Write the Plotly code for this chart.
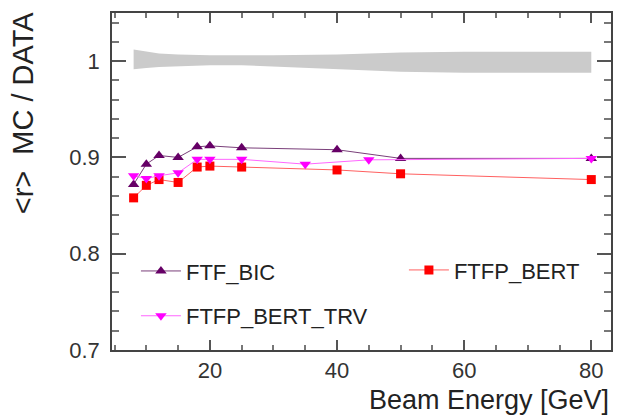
import plotly.graph_objects as go

# ---- data ----
band_x = [8, 10, 12, 15, 20, 25, 30, 40, 50, 60, 80]
band_hi = [1.012, 1.010, 1.008, 1.007, 1.006, 1.006, 1.006, 1.007, 1.009, 1.0097, 1.0097]
band_lo = [0.9915, 0.993, 0.994, 0.995, 0.9958, 0.9958, 0.995, 0.992, 0.989, 0.988, 0.988]

bic_x = [8, 10, 12, 15, 18, 20, 25, 40, 50, 80]
bic_y = [0.872, 0.893, 0.902, 0.900, 0.911, 0.912, 0.910, 0.908, 0.899, 0.899]

bert_x = [8, 10, 12, 15, 18, 20, 25, 40, 50, 80]
bert_y = [0.858, 0.871, 0.877, 0.874, 0.890, 0.891, 0.890, 0.887, 0.883, 0.877]

trv_x = [8, 10, 12, 15, 18, 20, 25, 35, 45, 80]
trv_y = [0.881, 0.878, 0.881, 0.884, 0.898, 0.898, 0.898, 0.893, 0.8975, 0.899]

x_ticks = [20, 40, 60, 80]
y_ticks = [0.7, 0.8, 0.9, 1.0]
y_tick_text = ["0.7", "0.8", "0.9", "1"]

FONT = "Liberation Sans, Arial, sans-serif"

fig = go.Figure()

# systematic band
fig.add_trace(go.Scatter(x=band_x + band_x[::-1], y=band_hi + band_lo[::-1],
                         fill="toself", fillcolor="#cbcbcb", line=dict(width=0),
                         mode="lines", showlegend=False, hoverinfo="skip"))

fig.add_trace(go.Scatter(x=bic_x, y=bic_y, mode="lines+markers", name="FTF_BIC",
                         line=dict(color="#7a3f7a", width=1),
                         marker=dict(symbol="triangle-up", size=10, color="#660066"),
                         legend="legend"))
fig.add_trace(go.Scatter(x=bert_x, y=bert_y, mode="lines+markers", name="FTFP_BERT",
                         line=dict(color="#ff6060", width=1),
                         marker=dict(symbol="square", size=9, color="#ff0000"),
                         legend="legend2"))
fig.add_trace(go.Scatter(x=trv_x, y=trv_y, mode="lines+markers", name="FTFP_BERT_TRV",
                         line=dict(color="#ff66ff", width=1),
                         marker=dict(symbol="triangle-down", size=10, color="#ff00ff"),
                         legend="legend3"))

axis_common = dict(
    showgrid=False, zeroline=False, showline=True, linecolor="#444444", linewidth=1.5,
    mirror="allticks", ticks="inside", tickcolor="#555555",
    tickfont=dict(family=FONT, size=22, color="#333333"),
)

fig.update_xaxes(**axis_common, range=[4.6, 83.1], tickvals=x_ticks, ticklen=10, tickwidth=1.5,
                 minor=dict(dtick=5, ticks="inside", ticklen=5, tickcolor="#777777", tick0=0))
fig.update_yaxes(**axis_common, range=[0.7, 1.05], tickvals=y_ticks, ticktext=y_tick_text,
                 ticklen=14, tickwidth=1.5, ticklabelstandoff=6,
                 minor=dict(dtick=0.02, tick0=0.7, ticks="inside", ticklen=7, tickcolor="#777777"))

leg_common = dict(font=dict(family=FONT, size=22, color="#222222"), bgcolor="rgba(0,0,0,0)",
                  xanchor="left", yanchor="middle", itemwidth=40)

fig.update_layout(
    width=617, height=415,
    margin=dict(l=112, r=4, t=13, b=65),
    paper_bgcolor="white", plot_bgcolor="white",
    legend=dict(**leg_common, x=0.048, y=0.234),
    legend2=dict(**leg_common, x=0.585, y=0.237),
    legend3=dict(**leg_common, x=0.048, y=0.101),
    annotations=[
        dict(text="Beam Energy [GeV]", xref="paper", yref="paper", x=1.0, y=-0.098,
             xanchor="right", yanchor="top", showarrow=False,
             font=dict(family=FONT, size=27, color="#222222")),
        dict(text="&lt;r&gt;  MC / DATA", xref="paper", yref="paper", x=-0.178, y=1.01,
             xanchor="center", yanchor="top", textangle=-90, showarrow=False,
             font=dict(family=FONT, size=29, color="#222222")),
    ],
)

fig.write_html("out.html")
